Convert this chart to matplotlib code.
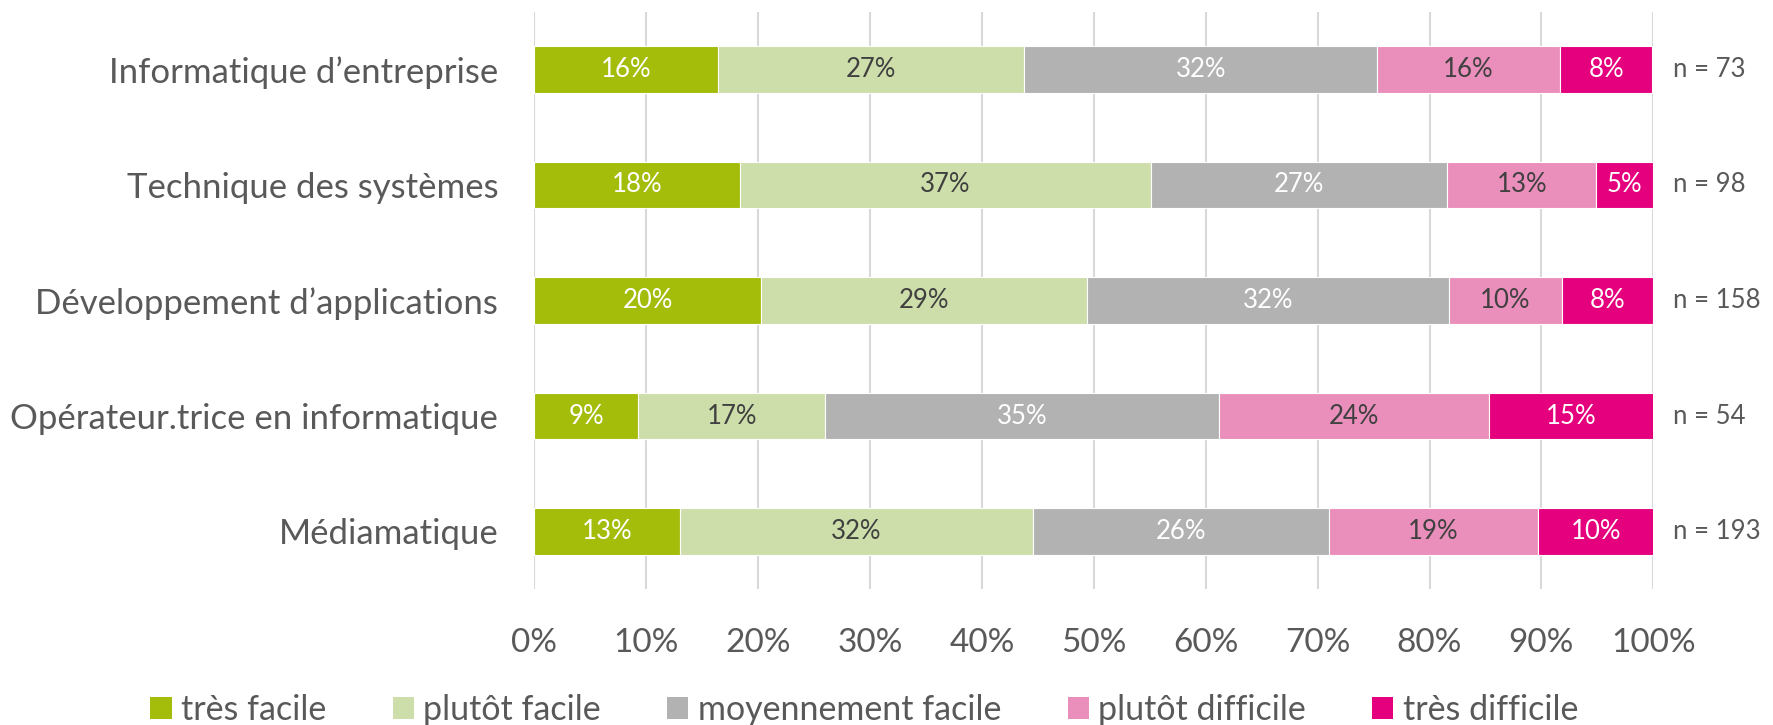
import numpy as np
import matplotlib.pyplot as plt
from matplotlib.patches import Patch

plt.rcParams['font.family'] = ['Lato', 'DejaVu Sans']

categories = [
    'Informatique d\u2019entreprise',
    'Technique des syst\u00e8mes',
    'D\u00e9veloppement d\u2019applications',
    'Op\u00e9rateur.trice en informatique',
    'M\u00e9diamatique',
]
n_labels = ['n = 73', 'n = 98', 'n = 158', 'n = 54', 'n = 193']

levels = ['tr\u00e8s facile', 'plut\u00f4t facile', 'moyennement facile',
          'plut\u00f4t difficile', 'tr\u00e8s difficile']

# percentages per category (top to bottom)
tres_facile = [16.4, 18.4, 20.3, 9.3, 13.0]
plutot_facile = [27.4, 36.7, 29.1, 16.7, 31.6]
moyennement_facile = [31.5, 26.5, 32.3, 35.2, 26.4]
plutot_difficile = [16.4, 13.3, 10.1, 24.1, 18.7]
tres_difficile = [8.2, 5.1, 8.2, 14.8, 10.4]

series = [tres_facile, plutot_facile, moyennement_facile, plutot_difficile, tres_difficile]
colors = ['#A4BC0A', '#CDDEAA', '#B2B2B2', '#EA8FBB', '#E5007D']
label_colors = ['white', '#404040', 'white', '#404040', 'white']

fig = plt.figure(figsize=(17.73, 7.25), dpi=100)
ax = fig.add_axes([534.3 / 1773, 1 - 589.25 / 725, (1653.3 - 534.3) / 1773, (589.25 - 11.75) / 725])

y = np.arange(len(categories))
left = np.zeros(len(categories))
for vals, col, tcol in zip(series, colors, label_colors):
    vals = np.array(vals)
    ax.barh(y, vals, left=left, height=0.4, color=col, edgecolor='white', linewidth=0.8, zorder=3)
    for yi, (l, v) in enumerate(zip(left, vals)):
        ax.text(l + v / 2, yi, f'{int(v + 0.5)}%', ha='center', va='center',
                color=tcol, fontsize=18.5, zorder=4)
    left += vals

for yi, t in enumerate(n_labels):
    ax.text(1.018, yi, t, transform=ax.get_yaxis_transform(), ha='left', va='center',
            color='#595959', fontsize=18.5)

ax.set_xlim(0, 100)
ax.set_ylim(len(categories) - 0.5, -0.5)
ax.set_xticks(np.arange(0, 101, 10))
ax.set_xticklabels([f'{v}%' for v in range(0, 101, 10)])
ax.set_yticks(y)
ax.set_yticklabels(categories)
ax.tick_params(axis='x', length=0, pad=28, labelsize=24, labelcolor='#595959')
ax.tick_params(axis='y', length=0, pad=26, labelsize=25, labelcolor='#595959')
ax.grid(axis='x', color='#D9D9D9', linewidth=1.5, zorder=0)
for s in ax.spines.values():
    s.set_visible(False)

handles = [Patch(facecolor=c, label=l) for c, l in zip(colors, levels)]
fig.legend(handles=handles, loc='center', bbox_to_anchor=(864.4 / 1773, 1 - 710 / 725),
           ncol=5, frameon=False, fontsize=24.5, labelcolor='#595959',
           handlelength=0.62, handleheight=0.62, handletextpad=0.28, columnspacing=1.95,
           borderpad=0, borderaxespad=0)

fig.savefig('out.png', dpi=100)
